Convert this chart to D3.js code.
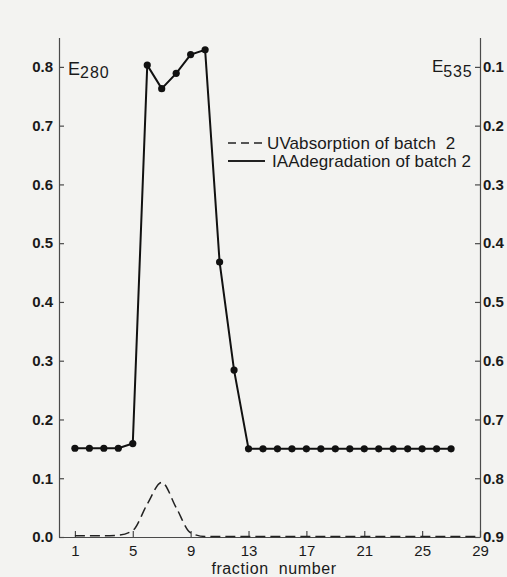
<!DOCTYPE html>
<html>
<head>
<meta charset="utf-8">
<script src="https://cdn.jsdelivr.net/npm/d3@7"></script>
<style>
    body { margin: 0; background: #f3f3f1; }
    svg { display: block; }
    text { font-family: "Liberation Sans", Arial, sans-serif; fill: #1a1a1a; white-space: pre; }
</style>
</head>
<body>
<svg id="chart" width="507" height="577"></svg>
<script>
// fraction numbers
const uvFractions = d3.range(1, 30);
const iaaFractions = d3.range(1, 28);

// UV absorption of batch 2 (E280, left axis)
const uvValues = [0.002, 0.002, 0.002, 0.003, 0.011, 0.056, 0.093, 0.05, 0.007, 0.001,
    0.001, 0.001, 0.001, 0.001, 0.001, 0.001, 0.001, 0.001, 0.001, 0.001,
    0.001, 0.001, 0.001, 0.001, 0.001, 0.001, 0.001, 0.001, 0.001];

// IAA degradation of batch 2 (E535, right axis, reversed)
const iaaValues = [0.749, 0.749, 0.749, 0.749, 0.741, 0.097, 0.137, 0.111, 0.079, 0.071,
    0.432, 0.616, 0.75, 0.75, 0.75, 0.75, 0.75, 0.75, 0.75, 0.75,
    0.75, 0.75, 0.75, 0.75, 0.75, 0.75, 0.75];

const xTicks = [1, 5, 9, 13, 17, 21, 25, 29];
const leftTicks = [0.0, 0.1, 0.2, 0.3, 0.4, 0.5, 0.6, 0.7, 0.8];
const rightTicks = [0.1, 0.2, 0.3, 0.4, 0.5, 0.6, 0.7, 0.8, 0.9];
const legendLabels = ["UVabsorption of batch  2", "IAAdegradation of batch 2"];

const svg = d3.select("#chart");

const x = d3.scaleLinear().domain([-0.1, 29]).range([59, 480]);
const yL = d3.scaleLinear().domain([0, 0.85]).range([537, 37.5]);
const yR = d3.scaleLinear().domain([0.9, 0.05]).range([537, 37.5]);

function styleAxis(g, bold) {
    g.select(".domain").attr("stroke", "#4a4a4a").attr("stroke-width", 1.2);
    g.selectAll(".tick line").attr("stroke", "#4a4a4a").attr("stroke-width", 1.2);
    g.selectAll(".tick text")
        .attr("fill", "#1a1a1a")
        .style("font-size", "15px")
        .style("font-weight", bold ? "bold" : "normal")
        .style("font-family", "'Liberation Sans', Arial, sans-serif");
}

// axes (all ticks point inward)
svg.append("g")
    .attr("transform", "translate(59,0)")
    .call(d3.axisLeft(yL).tickValues(leftTicks).tickSizeInner(-5).tickSizeOuter(0)
        .tickPadding(6).tickFormat(d3.format(".1f")))
    .call(g => styleAxis(g, true));

svg.append("g")
    .attr("transform", "translate(480,0)")
    .call(d3.axisRight(yR).tickValues(rightTicks).tickSizeInner(-5).tickSizeOuter(0)
        .tickPadding(3).tickFormat(d3.format(".1f")))
    .call(g => styleAxis(g, true));

svg.append("g")
    .attr("transform", "translate(0,537)")
    .call(d3.axisBottom(x).tickValues(xTicks).tickSizeInner(-6).tickSizeOuter(0)
        .tickPadding(8))
    .call(g => styleAxis(g, false));

// axis titles
svg.append("text")
    .attr("x", 274).attr("y", 574)
    .attr("text-anchor", "middle")
    .style("font-size", "16px")
    .style("letter-spacing", "0.6px")
    .text("fraction  number");

const e280 = svg.append("text").attr("x", 68).attr("y", 75).style("font-size", "18px");
e280.append("tspan").text("E");
e280.append("tspan").attr("dy", 3).style("font-size", "16px").style("letter-spacing", "1px").text("280");

const e535 = svg.append("text").attr("x", 432).attr("y", 72).style("font-size", "17px");
e535.append("tspan").text("E");
e535.append("tspan").attr("dy", 5).style("font-size", "16px").style("letter-spacing", "0.8px").text("535");

// UV absorption, dashed
svg.append("path")
    .datum(uvFractions.map((f, i) => [f, uvValues[i]]))
    .attr("fill", "none")
    .attr("stroke", "#222")
    .attr("stroke-width", 1.5)
    .attr("stroke-dasharray", "10,5")
    .attr("d", d3.line().x(d => x(d[0])).y(d => yL(d[1])).curve(d3.curveMonotoneX));

// IAA degradation, solid with dots
const iaa = iaaFractions.map((f, i) => [f, iaaValues[i]]);
svg.append("path")
    .datum(iaa)
    .attr("fill", "none")
    .attr("stroke", "#111")
    .attr("stroke-width", 2)
    .attr("d", d3.line().x(d => x(d[0])).y(d => yR(d[1])));

svg.append("g")
    .selectAll("circle")
    .data(iaa)
    .join("circle")
    .attr("cx", d => x(d[0]))
    .attr("cy", d => yR(d[1]))
    .attr("r", 3.6)
    .attr("fill", "#111");

// legend
const legend = svg.append("g");
legendLabels.forEach((label, i) => {
    let yy = 143 + i * 18;
    legend.append("line")
        .attr("x1", 228).attr("x2", 265)
        .attr("y1", yy).attr("y2", yy)
        .attr("stroke", "#222")
        .attr("stroke-width", i === 0 ? 1.5 : 2.2)
        .attr("stroke-dasharray", i === 0 ? "8,5" : null);
    legend.append("text")
        .attr("x", i === 0 ? 267 : 272)
        .attr("y", yy + 6)
        .style("font-size", "17px")
        .style("letter-spacing", "0.1px")
        .text(label);
});
</script>
</body>
</html>
